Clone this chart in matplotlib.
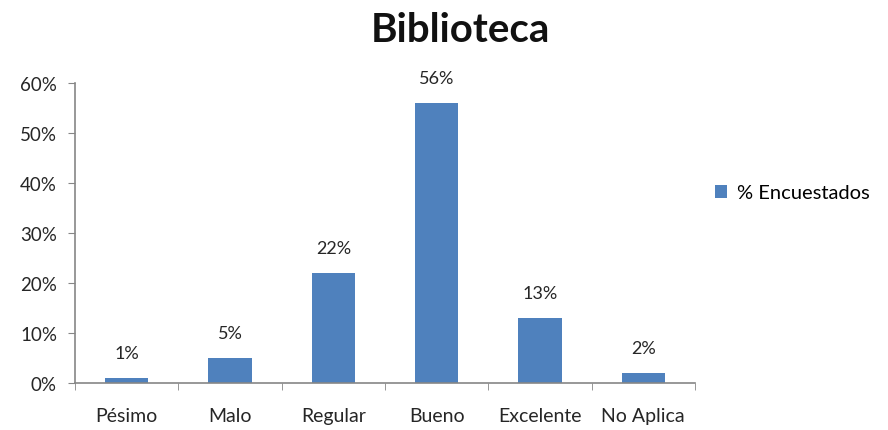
import matplotlib.pyplot as plt
import numpy as np
from matplotlib.ticker import FuncFormatter, FixedLocator

plt.rcParams['font.family'] = ['Lato', 'DejaVu Sans']

categorias = ['Pésimo', 'Malo', 'Regular', 'Bueno', 'Excelente', 'No Aplica']
porcentajes = [1, 5, 22, 56, 13, 2]
serie = '% Encuestados'
color_barra = '#4F81BD'
gris = '#868686'
texto = '#262626'

fig = plt.figure(figsize=(8.88, 4.31), dpi=100)
ax = fig.add_axes([0.0845, 0.109, 0.698, 0.696])

x = np.arange(len(categorias))
bars = ax.bar(x, porcentajes, width=0.42, color=color_barra, label=serie)

for b, v in zip(bars, porcentajes):
    ax.text(b.get_x() + b.get_width() / 2, v + 5.0, f'{v}%',
            ha='center', va='center', fontsize=13, color=texto)

ax.set_xlim(-0.5, len(categorias) - 0.5)
ax.set_ylim(0, 60)
ax.set_yticks(np.arange(0, 61, 10))
ax.yaxis.set_major_formatter(FuncFormatter(lambda v, p: f'{v:.0f}%'))

# categorías centradas, marcas de graduación en los bordes de cada una
ax.set_xticks(x)
ax.set_xticklabels(categorias)
ax.xaxis.set_minor_locator(FixedLocator(np.arange(-0.5, len(categorias), 1)))
ax.tick_params(axis='x', which='major', length=0, pad=17, labelsize=14, labelcolor=texto)
ax.tick_params(axis='x', which='minor', length=5, color=gris, direction='out')
ax.tick_params(axis='y', length=5, color=gris, labelsize=13.5, labelcolor=texto, pad=8)

for s in ['top', 'right']:
    ax.spines[s].set_visible(False)
for s in ['left', 'bottom']:
    ax.spines[s].set_color(gris)
    ax.spines[s].set_linewidth(1.2)

fig.text(0.518, 0.93, 'Biblioteca', ha='center', va='center',
         fontsize=29, fontweight='bold', color='#111111')

fig.legend(handles=[bars], labels=[serie], loc='center left',
           bbox_to_anchor=(0.785, 0.55), frameon=False, fontsize=14.5,
           handlelength=0.6, handleheight=0.6, handletextpad=0.5)

plt.savefig('out.png', dpi=100)
plt.close()
